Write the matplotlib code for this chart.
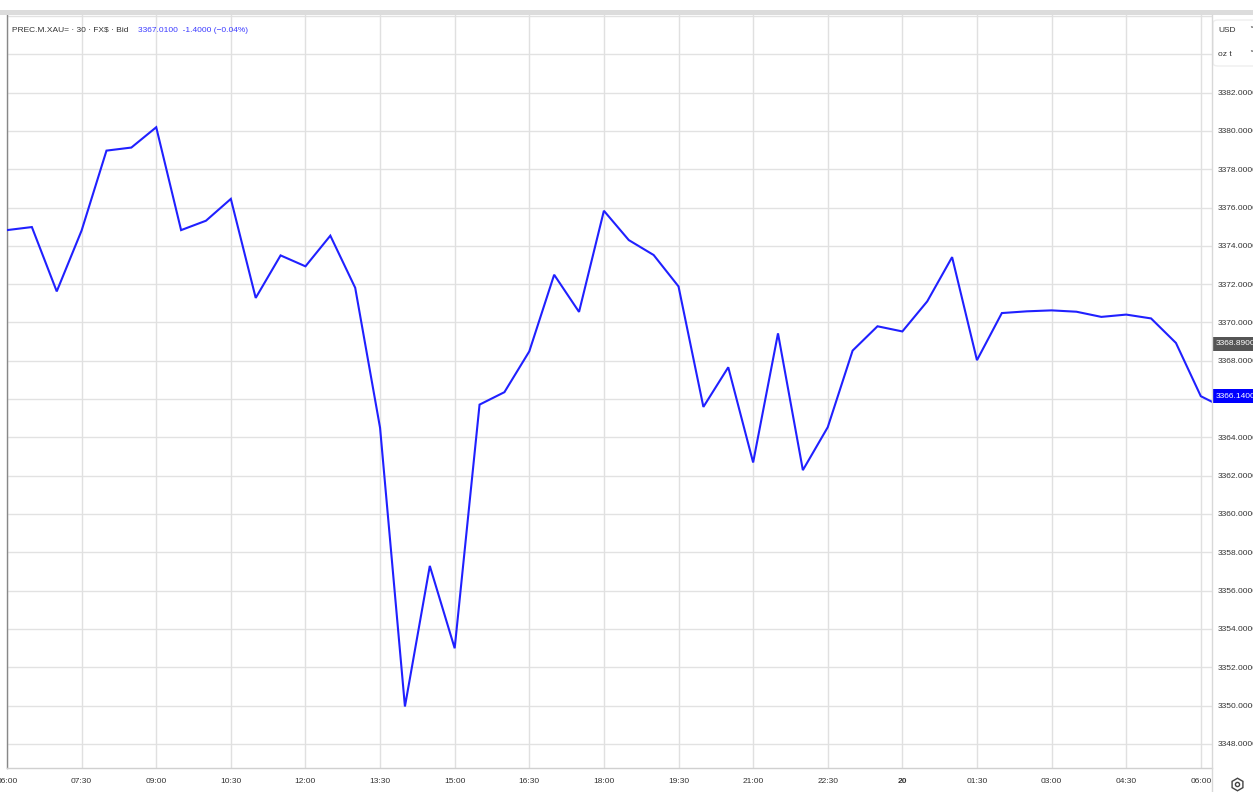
import matplotlib
matplotlib.use("Agg")
import matplotlib.pyplot as plt
from matplotlib.patches import Rectangle, FancyBboxPatch
import numpy as np

# ---- data (30-minute bid prices, 06:00 -> 06:30 next day) ----
prices = [3374.82, 3374.98, 3371.62, 3374.80, 3378.97, 3379.13, 3380.19, 3374.82,
          3375.31, 3376.45, 3371.28, 3373.50, 3372.93, 3374.53, 3371.81, 3364.50,
          3349.95, 3357.29, 3352.99, 3365.71, 3366.36, 3368.49, 3372.49, 3370.55,
          3375.83, 3374.30, 3373.52, 3371.88, 3365.59, 3367.66, 3362.69, 3369.43,
          3362.29, 3364.53, 3368.53, 3369.80, 3369.53, 3371.10, 3373.41, 3368.03,
          3370.49, 3370.58, 3370.63, 3370.56, 3370.29, 3370.41, 3370.21, 3368.93,
          3366.15, 3365.50]
tick_labels = ["06:00", "07:30", "09:00", "10:30", "12:00", "13:30", "15:00", "16:30",
               "18:00", "19:30", "21:00", "22:30", "20", "01:30", "03:00", "04:30", "06:00"]
y_ticks = list(range(3348, 3383, 2))
grid_y = list(range(3348, 3387, 2))
prev_close = 3368.89
last_price = 3366.14
header_left = "PREC.M.XAU= · 30 · FX$ · Bid"
header_right = "3367.0100  -1.4000 (\u22120.04%)"

W, H = 1253, 792
fig = plt.figure(figsize=(W / 100, H / 100), dpi=100)
fig.patch.set_facecolor("white")

FONT = ["Liberation Sans", "DejaVu Sans"]
FS = 6
TXT = "#333333"

def fx(px):
    return px / W

def fy(py):
    return 1 - py / H

left, right, top, bottom = 7, 1212, 15, 768
ax = fig.add_axes([fx(left), fy(bottom), fx(right) - fx(left), fy(top) - fy(bottom)])

x = np.arange(len(prices))
ax.plot(x, prices, color="#2020ff", lw=1.5, solid_joinstyle="miter", zorder=3)

ax.set_xlim(0.0, 48.45)
ax.set_ylim(3346.74, 3386.05)

# grid
for gy in grid_y:
    ax.axhline(gy, color="#e2e2e2", lw=1, zorder=1)
tick_pos = np.arange(0, len(tick_labels) * 3, 3)
for tp in tick_pos:
    ax.axvline(tp, color="#e0e0e0", lw=1, zorder=1)

ax.set_xticks(tick_pos)
ax.set_xticklabels(tick_labels)
for lab in ax.get_xticklabels():
    lab.set_family(FONT)
    lab.set_fontsize(FS)
    lab.set_color(TXT)
    if lab.get_text() == "20":
        lab.set_fontweight("bold")
ax.tick_params(axis="x", length=0, pad=7)

# tick labels hidden behind the price tags are left empty, as in the source chart
hidden = {round(last_price / 2) * 2}
ax.yaxis.tick_right()
ax.set_yticks(y_ticks)
ax.set_yticklabels(["" if v in hidden else f"{v:.4f}" for v in y_ticks])
for lab in ax.get_yticklabels():
    lab.set_family(FONT)
    lab.set_fontsize(FS)
    lab.set_color(TXT)
ax.tick_params(axis="y", length=0, pad=4)

for s in ["top", "right"]:
    ax.spines[s].set_visible(False)
ax.spines["left"].set_color("#888888")
ax.spines["left"].set_linewidth(1)
ax.spines["bottom"].set_color("#d0d0d0")
ax.spines["bottom"].set_linewidth(1)

# right axis separator
fig.add_artist(plt.Line2D([fx(right), fx(right)], [0, fy(top)],
                          transform=fig.transFigure, color="#d8d8d8", lw=1))

# top band
fig.add_artist(Rectangle((0, fy(15)), 1, (15 - 10) / H, transform=fig.transFigure,
                         facecolor="#dcdcdc", edgecolor="none"))

# header
t1 = fig.text(fx(12), fy(30), header_left, family=FONT, fontsize=FS, color=TXT, va="center")
fig.canvas.draw()
ext = t1.get_window_extent()
fig.text((ext.x1 + 9) / W, fy(30), header_right, family=FONT, fontsize=FS,
         color="#3b3bff", va="center")

# currency/unit selector
fig.add_artist(FancyBboxPatch((fx(1213), fy(66)), fx(60), (66 - 20) / H,
                              boxstyle="round,pad=0,rounding_size=0.004",
                              transform=fig.transFigure, facecolor="white",
                              edgecolor="#eeeeee", lw=1))
fig.text(fx(1218), fy(31), "USD", family=FONT, fontsize=FS, color=TXT, va="center")
fig.text(fx(1218), fy(55), "oz t", family=FONT, fontsize=FS, color=TXT, va="center")
fig.text(fx(1249), fy(31), "\u02c5", family=["DejaVu Sans"], fontsize=FS, color=TXT, va="center")
fig.text(fx(1249), fy(55), "\u02c5", family=["DejaVu Sans"], fontsize=FS, color=TXT, va="center")

# price labels on the axis
def price_tag(val, fc):
    ytag = ax.transData.transform((0, val))[1]
    ypx = H - ytag
    fig.add_artist(Rectangle((fx(1213), fy(ypx + 7)), fx(45), 14 / H,
                             transform=fig.transFigure, facecolor=fc, edgecolor="none"))
    fig.text(fx(1216), fy(ypx), f"{val:.4f}", family=FONT, fontsize=FS,
             color="white", va="center")

price_tag(prev_close, "#555555")
price_tag(last_price, "#0000ff")

# settings icon bottom-right
fig.add_artist(plt.Line2D([fx(1237)], [fy(784)], marker="h", markersize=9,
                          markerfacecolor="white", markeredgecolor="#444444",
                          markeredgewidth=1, transform=fig.transFigure))
fig.add_artist(plt.Line2D([fx(1237)], [fy(784)], marker="o", markersize=3,
                          markerfacecolor="white", markeredgecolor="#444444",
                          markeredgewidth=1, transform=fig.transFigure))

fig.savefig("out.png", dpi=100)
